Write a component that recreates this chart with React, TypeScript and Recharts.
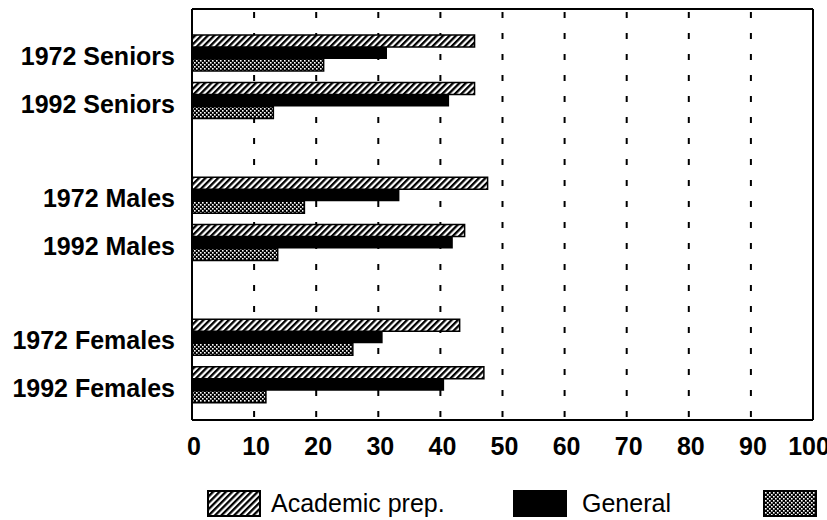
import React from 'react';
import { BarChart, Bar, XAxis, YAxis, CartesianGrid } from 'recharts';

const categories = [
  '1972 Seniors',
  '1992 Seniors',
  '',
  '1972 Males',
  '1992 Males',
  ' ',
  '1972 Females',
  '1992 Females',
];
const academicPrep = [45.5, 45.5, null, 47.6, 43.9, null, 43.1, 47.0];
const general = [31.4, 41.4, null, 33.4, 42.0, null, 30.7, 40.6];
const vocational = [21.2, 13.1, null, 18.1, 13.8, null, 25.9, 11.9];
const xTicks = [0, 10, 20, 30, 40, 50, 60, 70, 80, 90, 100];
const seriesNames = ['Academic prep.', 'General', 'Vocational'];

const data = categories.map((name, i) => ({
  name,
  academic: academicPrep[i],
  general: general[i],
  vocational: vocational[i],
}));

const font = "'Liberation Sans', Arial, sans-serif";

const YTick = (props: any) => {
  const { x, y, payload } = props;
  return (
    <text x={x} y={y} dy={12.5} textAnchor="end" fontFamily={font} fontSize={25} fontWeight="bold" fill="#000">
      {payload.value}
    </text>
  );
};

const XTick = (props: any) => {
  const { x, y, payload } = props;
  // the last label runs off the page edge in the original too
  const dx = payload.value === 100 ? -4 : 2;
  return (
    <text x={x} y={y} dx={dx} dy={35} textAnchor="middle" fontFamily={font} fontSize={25} fontWeight="bold" fill="#000">
      {payload.value}
    </text>
  );
};

function Patterns() {
  return (
    <svg width={0} height={0} style={{ position: 'absolute' }}>
      <defs>
        <pattern id="hatch" patternUnits="userSpaceOnUse" width={4.5} height={4.5} patternTransform="rotate(45)">
          <rect width={4.5} height={4.5} fill="#fff" />
          <rect width={2.3} height={4.5} fill="#000" />
        </pattern>
        <pattern id="dots" patternUnits="userSpaceOnUse" width={4} height={4}>
          <rect width={4} height={4} fill="#000" />
          <rect x={0} y={0} width={1.6} height={1.6} fill="#fff" />
          <rect x={2} y={2} width={1.6} height={1.6} fill="#fff" />
        </pattern>
      </defs>
    </svg>
  );
}

const swatchFills = ['url(#hatch)', '#000', 'url(#dots)'];
const legendLeft = [207, 513, 763];

function ChartLegend() {
  return (
    <>
      {seriesNames.map((n, i) => (
        <div
          key={n}
          style={{
            position: 'absolute',
            left: legendLeft[i],
            top: 488,
            height: 30,
            display: 'flex',
            alignItems: 'center',
            whiteSpace: 'nowrap',
            fontFamily: font,
            fontSize: 25,
            color: '#000',
          }}
        >
          <svg width={54} height={27} style={{ marginRight: i === 1 ? 15 : 10, flexShrink: 0 }}>
            <rect x={1} y={1} width={52} height={25} fill={swatchFills[i]} stroke="#000" strokeWidth={2} />
          </svg>
          <span>{n}</span>
        </div>
      ))}
    </>
  );
}

export default function App() {
  return (
    <div style={{ position: 'absolute', left: 0, top: 0, width: 827, height: 520, overflow: 'hidden', background: '#fff' }}>
      <Patterns />
      <BarChart
        width={827}
        height={520}
        data={data}
        layout="vertical"
        margin={{ top: 9, right: 14, bottom: 70, left: 0 }}
        barCategoryGap={6}
        barGap={0}
      >
        <CartesianGrid horizontal={false} stroke="#000" strokeWidth={2} strokeDasharray="6 15" strokeDashoffset={18} />
        {/* frame: top and right edges of the plot box */}
        <CartesianGrid
          stroke="#000"
          strokeWidth={2}
          horizontalCoordinatesGenerator={({ offset }: any) => [offset.top]}
          verticalCoordinatesGenerator={({ offset }: any) => [offset.left + offset.width]}
        />
        <XAxis
          type="number"
          domain={[0, 100]}
          ticks={xTicks}
          height={30}
          tick={<XTick />}
          tickLine={false}
          tickSize={0}
          tickMargin={0}
          axisLine={{ stroke: '#000', strokeWidth: 2 }}
        />
        <YAxis
          type="category"
          dataKey="name"
          width={192}
          padding={{ top: 20, bottom: 12 }}
          tick={<YTick />}
          tickLine={false}
          tickSize={0}
          tickMargin={17}
          interval={0}
          axisLine={{ stroke: '#000', strokeWidth: 2 }}
        />
        <Bar dataKey="academic" name={seriesNames[0]} fill="url(#hatch)" stroke="#000" strokeWidth={1.5} isAnimationActive={false} />
        <Bar dataKey="general" name={seriesNames[1]} fill="#000" isAnimationActive={false} />
        <Bar dataKey="vocational" name={seriesNames[2]} fill="url(#dots)" stroke="#000" strokeWidth={1.5} isAnimationActive={false} />
      </BarChart>
      <ChartLegend />
    </div>
  );
}
